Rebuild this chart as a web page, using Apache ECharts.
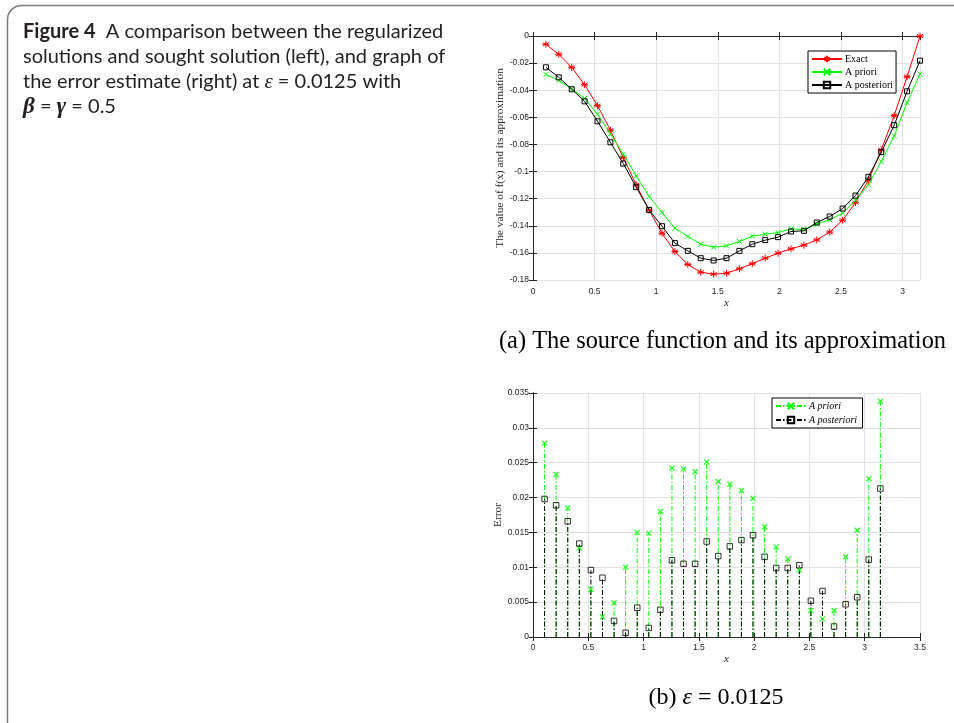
<!DOCTYPE html>
<html>
<head>
<meta charset="utf-8">
<script src="https://cdn.jsdelivr.net/npm/echarts@6/dist/echarts.min.js"></script>
<style>
html,body{margin:0;padding:0;background:#fff;}
#main{width:954px;height:723px;}
</style>
</head>
<body>
<div id="main"></div>
<script>
// ---- data ----
const xs = [0.1047,0.2094,0.3142,0.4189,0.5236,0.6283,0.7330,0.8378,0.9425,1.0472,
            1.1519,1.2566,1.3614,1.4661,1.5708,1.6755,1.7802,1.8850,1.9897,2.0944,
            2.1991,2.3038,2.4086,2.5133,2.6180,2.7227,2.8274,2.9322,3.0369,3.1416];
const exact = [-0.0061,-0.0135,-0.0231,-0.0359,-0.0514,-0.0695,-0.0897,-0.1098,-0.1285,-0.1455,
               -0.1590,-0.1686,-0.1742,-0.1757,-0.1750,-0.1717,-0.1680,-0.1639,-0.1602,-0.1570,
               -0.1543,-0.1504,-0.1447,-0.1359,-0.1229,-0.1064,-0.0840,-0.0587,-0.0300,0.0000];
const priori = [-0.0283,-0.0327,-0.0390,-0.0460,-0.0577,-0.0722,-0.0872,-0.1032,-0.1184,-0.1302,
                -0.1418,-0.1479,-0.1536,-0.1558,-0.1548,-0.1516,-0.1477,-0.1462,-0.1450,-0.1423,
                -0.1428,-0.1388,-0.1356,-0.1307,-0.1211,-0.1098,-0.0926,-0.0737,-0.0491,-0.0280];
const posteriori = [-0.0231,-0.0305,-0.0393,-0.0482,-0.0629,-0.0784,-0.0941,-0.1115,-0.1283,-0.1403,
                    -0.1528,-0.1585,-0.1639,-0.1656,-0.1639,-0.1585,-0.1536,-0.1506,-0.1484,-0.1442,
                    -0.1437,-0.1376,-0.1332,-0.1273,-0.1177,-0.1039,-0.0857,-0.0658,-0.0408,-0.0182];
const errPriori = [0.0278,0.0233,0.0185,0.0128,0.0068,0.0029,0.0049,0.0100,0.0150,0.0149,
                   0.0180,0.0242,0.0241,0.0237,0.0251,0.0223,0.0219,0.0210,0.0199,0.0158,
                   0.0129,0.0112,0.0096,0.0038,0.0026,0.0038,0.0115,0.0153,0.0227,0.0338];
const errPost = [0.0198,0.0189,0.0166,0.0134,0.0096,0.0085,0.0023,0.0006,0.0042,0.0013,
                 0.0039,0.0110,0.0105,0.0105,0.0137,0.0116,0.0130,0.0139,0.0146,0.0115,
                 0.0099,0.0099,0.0103,0.0052,0.0066,0.0015,0.0047,0.0057,0.0111,0.0213];
const legendTop = ['Exact','A priori','A posteriori'];
const legendBottom = ['A priori ','A posteriori '];

// ---- helpers ----
const pair = (a) => xs.map((x,i)=>[x,a[i]]);
const STAR = 'path://M5,0L5,10M0.7,2.5L9.3,7.5M9.3,2.5L0.7,7.5M0,5L10,5';
const CROSS = 'path://M0,0L10,10M10,0L0,10';
const SQUARE = 'path://M0,0L10,0L10,10L0,10Z';
const RED = '#ff0000', GREEN = '#00ff00', BLACK = '#000000';
const AX = '#262626';
const DASHDOT = [5,2,1.5,2];
const TICKFONT = {color:AX,fontFamily:'Liberation Sans',fontSize:8.5};

const axisCommon = (extra) => Object.assign({
  type:'value',
  axisLine:{show:true,lineStyle:{color:AX,width:1}},
  axisTick:{show:true,inside:true,length:4,lineStyle:{color:AX,width:1}},
  axisLabel:Object.assign({margin:4},TICKFONT),
  splitLine:{show:true,lineStyle:{color:'#e3e3e3',width:1}}
}, extra);

const mirror = (extra) => Object.assign({
  type:'value',
  axisLine:{show:true,lineStyle:{color:AX,width:1}},
  axisTick:{show:true,inside:true,length:4,lineStyle:{color:AX,width:1}},
  axisLabel:{show:false},
  splitLine:{show:false}
}, extra);

function stem(color){
  return function(params, api){
    const x = api.value(0), y = api.value(1);
    const p0 = api.coord([x,0]), p1 = api.coord([x,y]);
    return {type:'line', shape:{x1:p0[0],y1:p0[1],x2:p1[0],y2:p1[1]},
      style:{stroke:color,lineWidth:1,lineDash:DASHDOT}};
  };
}

const chart = echarts.init(document.getElementById('main'), null, {renderer:'canvas'});
const option = {
  animation:false,
  backgroundColor:'#ffffff',
  grid:[
    {left:533,top:36,width:387,height:244,outerBoundsMode:'none'},
    {left:533,top:393,width:387,height:244,outerBoundsMode:'none'}
  ],
  xAxis:[
    axisCommon({gridIndex:0,min:0,max:3.1416,interval:0.5,
      axisLabel:Object.assign({margin:7,showMaxLabel:false},TICKFONT),
      name:'x',nameLocation:'middle',nameGap:18,
      nameTextStyle:{fontFamily:'Liberation Serif',fontStyle:'italic',fontSize:11,color:AX}}),
    axisCommon({gridIndex:1,min:0,max:3.5,interval:0.5,
      axisLabel:Object.assign({margin:6},TICKFONT),
      name:'x',nameLocation:'middle',nameGap:17,
      nameTextStyle:{fontFamily:'Liberation Serif',fontStyle:'italic',fontSize:11,color:AX}}),
    mirror({gridIndex:0,position:'top',min:0,max:3.1416,interval:0.5}),
    mirror({gridIndex:1,position:'top',min:0,max:3.5,interval:0.5})
  ],
  yAxis:[
    axisCommon({gridIndex:0,min:-0.18,max:0,interval:0.02,
      name:'The value of f(x) and its approximation',nameLocation:'middle',nameGap:25,
      nameTextStyle:{fontFamily:'Liberation Serif',fontSize:11.4,color:AX}}),
    axisCommon({gridIndex:1,min:0,max:0.035,interval:0.005,
      name:'Error',nameLocation:'middle',nameGap:28,
      nameTextStyle:{fontFamily:'Liberation Serif',fontSize:11.4,color:AX}}),
    mirror({gridIndex:0,position:'right',min:-0.18,max:0,interval:0.02}),
    mirror({gridIndex:1,position:'right',min:0,max:0.035,interval:0.005})
  ],
  legend:[
    {data:legendTop,orient:'vertical',left:808,top:51,itemWidth:30,itemHeight:8,itemGap:3,
     padding:[3,3,3,3],borderColor:'#000',borderWidth:1,backgroundColor:'#fff',borderRadius:0,
     textStyle:{fontFamily:'Liberation Serif',fontSize:10,color:'#000',padding:[0,0,0,-2]},
     selectedMode:false},
    {data:legendBottom,orient:'vertical',left:772,top:398,itemWidth:30,itemHeight:8,itemGap:4,
     padding:[3,3,3,3],borderColor:'#000',borderWidth:1,backgroundColor:'#fff',borderRadius:0,
     textStyle:{fontFamily:'Liberation Serif',fontStyle:'italic',fontSize:10,color:'#000',padding:[0,0,0,-2]},
     selectedMode:false}
  ],
  series:[
    {name:'Exact',type:'line',xAxisIndex:0,yAxisIndex:0,data:pair(exact),
     symbol:STAR,symbolSize:7,showAllSymbol:true,
     lineStyle:{color:RED,width:1},itemStyle:{color:'transparent',borderColor:RED,borderWidth:1},z:3},
    {name:'A priori',type:'line',xAxisIndex:0,yAxisIndex:0,data:pair(priori),
     symbol:CROSS,symbolSize:5,showAllSymbol:true,
     lineStyle:{color:GREEN,width:1},itemStyle:{color:'transparent',borderColor:GREEN,borderWidth:1},z:4},
    {name:'A posteriori',type:'line',xAxisIndex:0,yAxisIndex:0,data:pair(posteriori),
     symbol:SQUARE,symbolSize:5,showAllSymbol:true,
     lineStyle:{color:BLACK,width:1},itemStyle:{color:'transparent',borderColor:BLACK,borderWidth:1},z:5},

    {name:'priStem',type:'custom',xAxisIndex:1,yAxisIndex:1,data:pair(errPriori),renderItem:stem(GREEN),z:2},
    {name:'postStem',type:'custom',xAxisIndex:1,yAxisIndex:1,data:pair(errPost),renderItem:stem(BLACK),z:3},
    {name:'priMark',type:'scatter',xAxisIndex:1,yAxisIndex:1,data:pair(errPriori),
     symbol:CROSS,symbolSize:5,itemStyle:{color:'transparent',borderColor:GREEN,borderWidth:1.4},z:4},
    {name:'postMark',type:'scatter',xAxisIndex:1,yAxisIndex:1,data:pair(errPost),
     symbol:SQUARE,symbolSize:5.5,itemStyle:{color:'transparent',borderColor:BLACK,borderWidth:1},z:5},
    {name:'A priori ',type:'line',xAxisIndex:1,yAxisIndex:1,data:[],
     symbol:CROSS,symbolSize:5,lineStyle:{color:GREEN,width:1,type:DASHDOT},
     itemStyle:{color:'transparent',borderColor:GREEN,borderWidth:1.4}},
    {name:'A posteriori ',type:'line',xAxisIndex:1,yAxisIndex:1,data:[],
     symbol:SQUARE,symbolSize:5,lineStyle:{color:BLACK,width:1,type:DASHDOT},
     itemStyle:{color:'transparent',borderColor:BLACK,borderWidth:1}}
  ],
  graphic:[
    {type:'rect',shape:{x:7.5,y:5.5,width:975,height:735,r:14},
     style:{fill:'none',stroke:'#7a7a7a',lineWidth:1.5},silent:true},
    {type:'text',x:23,y:32,style:{text:'{b|Figure 4}  A comparison between the regularized',
      font:'20px Lato',fill:'#231f20',verticalAlign:'middle',
      rich:{b:{fontWeight:'bold',fontFamily:'Lato',fontSize:20,fill:'#231f20'}}}},
    {type:'text',x:23,y:57,style:{text:'solutions and sought solution (left), and graph of',
      font:'20px Lato',fill:'#231f20',verticalAlign:'middle'}},
    {type:'text',x:23,y:82,style:{text:'the error estimate (right) at {m|ε} = 0.0125 with',
      font:'20px Lato',fill:'#231f20',verticalAlign:'middle',
      rich:{m:{fontStyle:'italic',fontFamily:'Liberation Serif',fontSize:21,fill:'#231f20'}}}},
    {type:'text',x:23,y:107,style:{text:'{g|β} = {g|γ} = 0.5',
      font:'20px Lato',fill:'#231f20',verticalAlign:'middle',
      rich:{g:{fontStyle:'italic',fontWeight:'bold',fontFamily:'Liberation Serif',fontSize:23,fill:'#231f20'}}}},
    {type:'text',x:499,y:342,style:{text:'(a) The source function and its approximation',
      font:'24.4px "Liberation Serif"',fill:'#000',verticalAlign:'middle'}},
    {type:'text',x:716,y:698,style:{text:'(b) {e|ε} = 0.0125',
      font:'24px "Liberation Serif"',fill:'#000',verticalAlign:'middle',align:'center',
      rich:{e:{fontStyle:'italic',fontFamily:'Liberation Serif',fontSize:24,fill:'#000'}}}}
  ]
};
chart.setOption(option);
</script>
</body>
</html>
